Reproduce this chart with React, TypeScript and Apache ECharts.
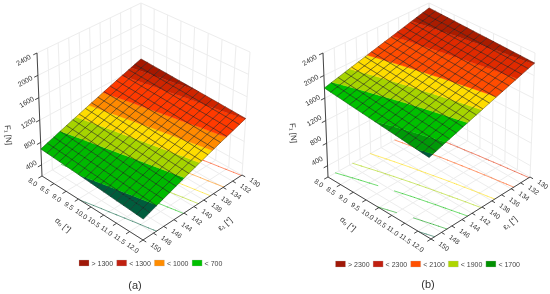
import React, { useEffect, useRef } from "react";
import * as echarts from "echarts";

const alphaTicks = [8, 8.5, 9, 9.5, 10, 10.5, 11, 11.5, 12];
const alphaLabels = ["8.0", "8.5", "9.0", "9.5", "10.0", "10.5", "11.0", "11.5", "12.0"];
const gammaTicks = [130, 132, 134, 136, 138, 140, 142, 144, 146, 148, 150];
const forceTicks = [400, 800, 1200, 1600, 2000, 2400];
const forceMin = 200;
const forceMax = 2400;

// Surface heights [N]: rows run from gamma 150 to 130, columns from alpha 8 to 12.
const surfaceA = [
  [683,674,665,656,648,639,630,621,612,603,594,585,576,568,559,550,541],
  [723,714,706,697,688,679,671,662,653,644,636,627,618,609,601,592,583],
  [764,755,747,738,729,721,712,703,695,686,677,668,660,651,642,634,625],
  [804,795,787,778,770,761,752,744,735,726,718,709,701,692,683,675,666],
  [845,836,828,819,811,802,794,785,776,768,759,751,742,734,725,717,708],
  [885,877,868,860,851,843,834,826,818,809,801,792,784,775,767,758,750],
  [925,917,908,900,892,883,875,867,859,850,842,834,825,817,809,800,792],
  [966,958,949,941,933,925,917,908,900,892,884,875,867,859,851,842,834],
  [1006,998,990,981,973,965,957,949,940,932,924,916,908,900,891,883,875],
  [1046,1038,1030,1022,1014,1006,998,990,981,973,965,957,949,941,933,925,917],
  [1087,1079,1071,1063,1055,1047,1039,1031,1023,1015,1007,999,991,983,975,967,959],
  [1127,1119,1111,1103,1095,1088,1080,1072,1064,1056,1048,1040,1033,1025,1017,1009,1001],
  [1168,1160,1152,1145,1137,1129,1121,1113,1106,1098,1090,1082,1074,1066,1059,1051,1043],
  [1208,1200,1193,1185,1177,1169,1162,1154,1146,1138,1131,1123,1115,1107,1100,1092,1084],
  [1248,1240,1233,1225,1218,1210,1202,1195,1187,1179,1172,1164,1157,1149,1141,1134,1126],
  [1289,1281,1274,1266,1259,1251,1244,1236,1228,1221,1213,1206,1198,1191,1183,1176,1168],
  [1329,1322,1314,1307,1299,1292,1284,1277,1270,1262,1255,1247,1240,1232,1225,1217,1210],
];
const surfaceB = [
  [1779,1767,1755,1744,1732,1720,1708,1696,1685,1673,1661,1649,1637,1625,1614,1602,1590],
  [1812,1801,1789,1778,1766,1755,1744,1732,1721,1710,1698,1687,1675,1664,1653,1641,1630],
  [1845,1834,1823,1812,1801,1790,1779,1768,1757,1746,1735,1724,1713,1702,1691,1680,1669],
  [1878,1867,1857,1846,1836,1825,1815,1804,1793,1783,1772,1762,1751,1741,1730,1720,1709],
  [1911,1901,1891,1880,1870,1860,1850,1840,1830,1819,1809,1799,1789,1779,1768,1758,1748],
  [1944,1934,1925,1915,1905,1895,1886,1876,1866,1856,1847,1837,1827,1817,1808,1798,1788],
  [1977,1968,1958,1949,1940,1930,1921,1911,1902,1893,1883,1874,1865,1855,1846,1836,1827],
  [2010,2001,1992,1983,1974,1965,1956,1947,1939,1930,1921,1912,1903,1894,1885,1876,1867],
  [2043,2034,2026,2017,2009,2000,1992,1983,1975,1966,1957,1949,1940,1932,1923,1915,1906],
  [2075,2067,2059,2051,2043,2035,2027,2019,2011,2002,1994,1986,1978,1970,1962,1954,1946],
  [2108,2100,2093,2085,2077,2070,2062,2054,2047,2039,2031,2023,2016,2008,2000,1993,1985],
  [2141,2134,2126,2119,2112,2105,2097,2090,2083,2076,2069,2061,2054,2047,2040,2032,2025],
  [2174,2167,2160,2153,2146,2140,2133,2126,2119,2112,2105,2098,2091,2085,2078,2071,2064],
  [2207,2201,2194,2188,2181,2175,2168,2162,2156,2149,2143,2136,2130,2123,2117,2110,2104],
  [2240,2234,2228,2222,2216,2210,2204,2198,2192,2185,2179,2173,2167,2161,2155,2149,2143],
  [2273,2267,2262,2256,2251,2245,2239,2234,2228,2222,2217,2211,2205,2200,2194,2189,2183],
  [2306,2301,2296,2290,2285,2280,2275,2269,2264,2259,2254,2248,2243,2238,2233,2227,2222],
];

// Band edges as they sit on the drawn surface, and the band colours from low to high.
const levelsA = [628, 805, 905, 988, 1080, 1205, 1264];
const coloursA = ["#005c3c", "#00b900", "#a6d400", "#ffdc00", "#ff8a00", "#ff3a00", "#cf2500", "#a51800"];
const levelsB = [1612, 1687, 1815, 1900, 1988, 2113, 2215];
const coloursB = ["#005c3c", "#009a08", "#00c000", "#a6d400", "#ffdc00", "#ff4c00", "#e02a00", "#aa1c00"];

const legendA = ["> 1300", "< 1300", "< 1000", "< 700"];
const legendColoursA = ["#a01808", "#c02010", "#ff8c00", "#00c000"];
const legendB = ["> 2300", "< 2300", "< 2100", "< 1900", "< 1700"];
const legendColoursB = ["#a01808", "#c02010", "#ff5000", "#aed600", "#009000"];

type Pt = [number, number];
type Quad = [Pt, Pt, Pt, Pt];

function quadMap(q: Quad) {
  const [[x0, y0], [x1, y1], [x2, y2], [x3, y3]] = q;
  const sx = x0 - x1 + x2 - x3, sy = y0 - y1 + y2 - y3;
  const dx1 = x1 - x2, dx2 = x3 - x2, dy1 = y1 - y2, dy2 = y3 - y2;
  const den = dx1 * dy2 - dx2 * dy1;
  const g = (sx * dy2 - dx2 * sy) / den;
  const h = (dx1 * sy - sx * dy1) / den;
  const a = x1 - x0 + g * x1, b = x3 - x0 + h * x3;
  const d = y1 - y0 + g * y1, e = y3 - y0 + h * y3;
  return (s: number, t: number): Pt => {
    const w = g * s + h * t + 1;
    return [(a * s + b * t + x0) / w, (d * s + e * t + y0) / w];
  };
}

function makeProjector(floor: Quad, top: Quad) {
  const f = quadMap(floor), u = quadMap(top);
  return (s: number, t: number, h: number): Pt => {
    const p = f(s, t), q = u(s, t);
    return [p[0] + (q[0] - p[0]) * h, p[1] + (q[1] - p[1]) * h];
  };
}

const heightOf = (z: number) => (z - forceMin) / (forceMax - forceMin);
const sOf = (alpha: number) => (alpha - 8) / 4;
const tOf = (gamma: number) => (150 - gamma) / 20;

type V = [number, number, number];
function clipBelow(poly: V[], limit: number, keepAbove: boolean): V[] {
  const out: V[] = [];
  const inside = (v: V) => (keepAbove ? v[2] >= limit : v[2] <= limit);
  for (let i = 0; i < poly.length; i++) {
    const a = poly[i], b = poly[(i + 1) % poly.length];
    const ia = inside(a), ib = inside(b);
    if (ia) out.push(a);
    if (ia !== ib) {
      const k = (limit - a[2]) / (b[2] - a[2]);
      out.push([a[0] + (b[0] - a[0]) * k, a[1] + (b[1] - a[1]) * k, limit]);
    }
  }
  return out;
}

function contourSegments(table: number[][], levels: number[]) {
  const segs: number[][] = [];
  const n = table.length - 1;
  levels.forEach((lv, li) => {
    for (let j = 0; j < n; j++) {
      for (let i = 0; i < n; i++) {
        const c: number[][] = [
          [i, j, table[j][i]], [i + 1, j, table[j][i + 1]],
          [i + 1, j + 1, table[j + 1][i + 1]], [i, j + 1, table[j + 1][i]],
        ];
        const hits: number[][] = [];
        for (let e = 0; e < 4; e++) {
          const a = c[e], b = c[(e + 1) % 4];
          if ((a[2] - lv) * (b[2] - lv) < 0) {
            const k = (lv - a[2]) / (b[2] - a[2]);
            hits.push([(a[0] + (b[0] - a[0]) * k) / n, (a[1] + (b[1] - a[1]) * k) / n]);
          }
        }
        if (hits.length === 2) segs.push([hits[0][0], hits[0][1], 0, hits[1][0], hits[1][1], 0, li]);
      }
    }
  });
  return segs;
}

function frameSegments() {
  const grid: number[][] = [];
  const axes: number[][] = [];
  alphaTicks.forEach((a) => {
    const s = sOf(a);
    grid.push([s, 0, 0, s, 1, 0], [s, 1, 0, s, 1, 1]);
    axes.push([s, 0, 0, s, -0.035, 0]);
  });
  gammaTicks.forEach((g) => {
    const t = tOf(g);
    grid.push([0, t, 0, 1, t, 0], [0, t, 0, 0, t, 1]);
    axes.push([1, t, 0, 1.03, t, 0]);
  });
  forceTicks.forEach((z) => {
    const h = heightOf(z);
    grid.push([0, 0, h, 0, 1, h], [0, 1, h, 1, 1, h]);
    axes.push([0, 0, h, 0, -0.035, h]);
  });
  axes.push([0, 0, 0, 1, 0, 0], [1, 0, 0, 1, 1, 0], [0, 0, 0, 0, 0, 1]);
  return { grid, axes };
}

function panelSeries(table: number[][], levels: number[], colours: string[], project: (s: number, t: number, h: number) => Pt) {
  const n = table.length - 1;
  const cells: number[][] = [];
  for (let j = 0; j < n; j++) for (let i = 0; i < n; i++) cells.push([i, j]);
  const { grid, axes } = frameSegments();
  const contours = contourSegments(table, levels);
  const bounds = [-Infinity, ...levels, Infinity];
  const lineItem = (api: any, style: any) => {
    const a = project(api.value(0), api.value(1), api.value(2));
    const b = project(api.value(3), api.value(4), api.value(5));
    return { type: "line", shape: { x1: a[0], y1: a[1], x2: b[0], y2: b[1] }, style, silent: true };
  };
  const base = { type: "custom", coordinateSystem: "none", silent: true, progressive: 0, animation: false, clip: false };
  const cellVerts = (i: number, j: number): V[] =>
    ([[i, j], [i + 1, j], [i + 1, j + 1], [i, j + 1]] as number[][]).map(([a, b]) => {
      const z = table[b][a];
      const p = project(a / n, b / n, heightOf(z));
      return [p[0], p[1], z] as V;
    });
  return [
    { ...base, data: grid, renderItem: (_: any, api: any) => lineItem(api, { stroke: "#ededed", lineWidth: 1, fill: "none" }) },
    { ...base, data: contours, renderItem: (_: any, api: any) =>
        lineItem(api, { stroke: colours[api.value(6)], opacity: 0.55, lineWidth: 1, lineCap: "round", fill: "none" }) },
    { ...base, data: axes, renderItem: (_: any, api: any) => lineItem(api, { stroke: "#333", lineWidth: 0.9, fill: "none" }) },
    { ...base, data: cells, renderItem: (_: any, api: any) => {
        const v = cellVerts(api.value(0), api.value(1));
        const children: any[] = [];
        for (let b = 0; b < colours.length; b++) {
          let poly = clipBelow(v, bounds[b], true);
          if (poly.length > 2) poly = clipBelow(poly, bounds[b + 1], false);
          if (poly.length > 2) {
            children.push({
              type: "polygon",
              shape: { points: poly.map((p) => [p[0], p[1]]) },
              style: { fill: colours[b], stroke: colours[b], lineWidth: 0.4 },
              silent: true,
            });
          }
        }
        return { type: "group", children, silent: true };
      } },
    { ...base, data: cells, renderItem: (_: any, api: any) => {
        const v = cellVerts(api.value(0), api.value(1));
        return {
          type: "polygon",
          shape: { points: v.map((p) => [p[0], p[1]]) },
          style: { fill: "none", stroke: "rgba(25,25,25,0.55)", lineWidth: 0.6 },
          silent: true,
        };
      } },
  ];
}

const FONT = "'Liberation Sans', Arial, sans-serif";
const label = (text: string, x: number, y: number, deg: number, size = 6.8, fill = "#333") => ({
  type: "text",
  x,
  y,
  rotation: (deg * Math.PI) / 180,
  silent: true,
  style: { text, fontSize: size, fontFamily: FONT, fill, align: "center", verticalAlign: "middle" },
});

function panelText(project: (s: number, t: number, h: number) => Pt, cfg: any) {
  const out: any[] = [];
  alphaTicks.forEach((a, i) => {
    const p = project(sOf(a), 0, 0);
    const k = i / (alphaTicks.length - 1);
    out.push(label(alphaLabels[i], p[0] - 9 - (cfg.alphaDx * k), p[1] + 6 + 1.5 * k, -36));
  });
  gammaTicks.forEach((g) => {
    const p = project(1, tOf(g), 0);
    out.push(label(String(g), p[0] + 13, p[1] + 7, -36));
  });
  forceTicks.forEach((z) => {
    const p = project(0, 0, heightOf(z));
    const k = (z - 400) / 2000;
    out.push(label(String(z), p[0] - 10.5 - 3 * k, p[1] + cfg.forceDy + (7 - cfg.forceDy) * k, 30, 7));
  });
  out.push(label("α₀ [°]", cfg.alphaTitle[0], cfg.alphaTitle[1], -40, 8));
  out.push(label("ε₁ [°]", cfg.gammaTitle[0], cfg.gammaTitle[1], 40, 8));
  out.push(label("F₁ [N]", cfg.forceTitle[0], cfg.forceTitle[1], -85, 8));
  out.push(label(cfg.caption, cfg.captionAt[0], cfg.captionAt[1], 0, 11, "#333"));
  cfg.legend.forEach((t: string, i: number) => {
    const x = cfg.legendAt[0] + i * cfg.legendStep;
    out.push({
      type: "rect",
      silent: true,
      shape: { x, y: cfg.legendAt[1], width: 10, height: 6 },
      style: { fill: cfg.legendColours[i], stroke: "#bbb", lineWidth: 0.3 },
    });
    out.push({
      type: "text",
      x: x + 12.5,
      y: cfg.legendAt[1] + 3,
      silent: true,
      style: { text: t, fontSize: 7, fontFamily: FONT, fill: "#444", align: "left", verticalAlign: "middle" },
    });
  });
  return out;
}

export default function App() {
  const ref = useRef<HTMLDivElement>(null);
  useEffect(() => {
    document.body.style.margin = "0";
    const chart = echarts.init(ref.current!, undefined, { renderer: "svg" });
    const projectA = makeProjector(
      [[42, 176], [143, 240], [242, 175], [141, 118]],
      [[37, 53], [145, 105], [250, 52], [141, 3]],
    );
    const projectB = makeProjector(
      [[328, 177], [431, 239], [530, 177], [431, 120]],
      [[323, 53], [428, 110], [535, 53], [429, 3]],
    );
    const textA = panelText(projectA, {
      alphaDx: 1, forceDy: 0, alphaTitle: [63, 225], gammaTitle: [225, 224], forceTitle: [8, 135],
      caption: "(a)", captionAt: [135, 285], legend: legendA, legendColours: legendColoursA, legendAt: [79, 260], legendStep: 37.7,
    });
    const textB = panelText(projectB, {
      alphaDx: 4, forceDy: -5, alphaTitle: [348, 224], gammaTitle: [510, 223], forceTitle: [293, 133],
      caption: "(b)", captionAt: [428, 284], legend: legendB, legendColours: legendColoursB, legendAt: [335.5, 261], legendStep: 37.6,
    });
    chart.setOption({
      animation: false,
      backgroundColor: "#fff",
      series: [
        ...panelSeries(surfaceA, levelsA, coloursA, projectA),
        ...panelSeries(surfaceB, levelsB, coloursB, projectB),
      ],
      graphic: { elements: [...textA, ...textB] },
    });
    return () => chart.dispose();
  }, []);
  return <div ref={ref} style={{ position: "fixed", left: 0, top: 0, width: 550, height: 294, filter: "blur(0.35px)" }} />;
}
